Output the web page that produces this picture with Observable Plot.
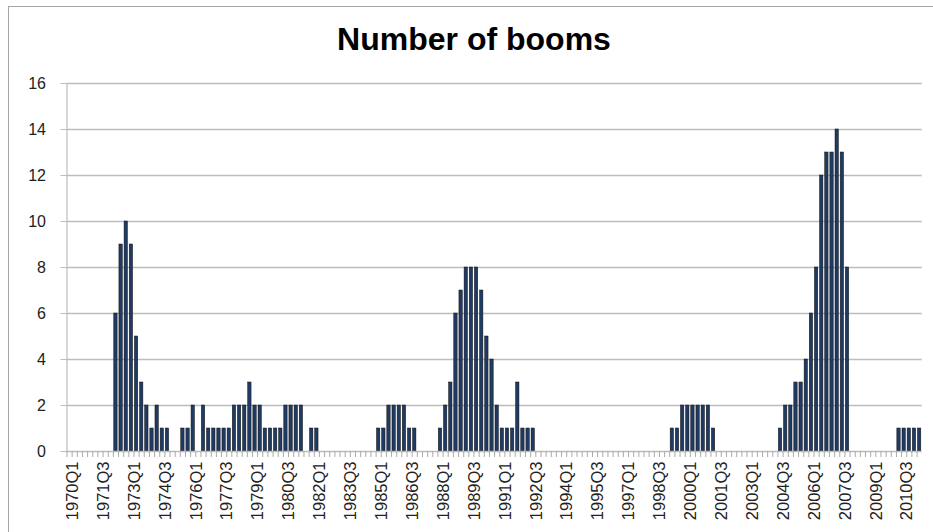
<!DOCTYPE html>
<html>
<head>
<meta charset="utf-8">
<script src="https://cdn.jsdelivr.net/npm/d3@7"></script>
<script src="https://cdn.jsdelivr.net/npm/@observablehq/plot@0.6"></script>
<style>
  html, body { margin: 0; padding: 0; background: #fff; }
  #wrap { position: relative; width: 933px; height: 532px; overflow: hidden; background: #fff; }
  #border { position: absolute; left: 8px; top: 6px; width: 1000px; height: 700px; border: 1px solid #a6a6a6; box-sizing: border-box; }
  #title { position: absolute; left: 0; width: 948px; top: 21px; text-align: center;
           font-family: "Liberation Sans", Arial, sans-serif; font-weight: bold; font-size: 32px; color: #000; }
  #chart { position: absolute; left: 0; top: 0; }
</style>
</head>
<body>
<div id="wrap">
  <div id="border"></div>
  <div id="chart"></div>
  <div id="title">Number of booms</div>
</div>
<script>
// Quarterly categories 1970Q1 .. 2011Q2
const startYear = 1970;
const nQuarters = 166;
const quarters = d3.range(nQuarters).map(i => `${startYear + Math.floor(i / 4)}Q${(i % 4) + 1}`);

// Number of booms per quarter
const booms = [
  0,0,0,0,0,0,0,0,0,6,      // 1970Q1-1972Q2
  9,10,9,5,3,2,1,2,1,1,     // 1972Q3-1974Q4
  0,0,1,1,2,0,2,1,1,1,      // 1975Q1-1977Q2
  1,1,2,2,2,3,2,2,1,1,      // 1977Q3-1979Q4
  1,1,2,2,2,2,0,1,1,0,      // 1980Q1-1982Q2
  0,0,0,0,0,0,0,0,0,0,      // 1982Q3-1984Q4
  1,1,2,2,2,2,1,1,0,0,      // 1985Q1-1987Q2
  0,0,1,2,3,6,7,8,8,8,      // 1987Q3-1989Q4
  7,5,4,2,1,1,1,3,1,1,      // 1990Q1-1992Q2
  1,0,0,0,0,0,0,0,0,0,      // 1992Q3-1994Q4
  0,0,0,0,0,0,0,0,0,0,      // 1995Q1-1997Q2
  0,0,0,0,0,0,0,1,1,2,      // 1997Q3-1999Q4
  2,2,2,2,2,1,0,0,0,0,      // 2000Q1-2002Q2
  0,0,0,0,0,0,0,0,1,2,      // 2002Q3-2004Q4
  2,3,3,4,6,8,12,13,13,14,  // 2005Q1-2007Q2
  13,8,0,0,0,0,0,0,0,0,     // 2007Q3-2009Q4
  0,1,1,1,1,1               // 2010Q1-2011Q2
];

const yTicks = [0, 2, 4, 6, 8, 10, 12, 14, 16];
const xTickLabels = quarters.filter((d, i) => i % 6 === 0);

const data = quarters.map((q, i) => ({quarter: q, value: booms[i]}));

const W = 933, H = 532;
const mL = 66.5, mR = 11.3, mT = 83, mB = 81;
const step = (W - mL - mR) / nQuarters;

const chart = Plot.plot({
  width: W,
  height: H,
  marginLeft: mL,
  marginRight: mR,
  marginTop: mT,
  marginBottom: mB,
  style: {background: "transparent", fontFamily: "Liberation Sans, Arial, sans-serif", color: "#222"},
  x: {type: "band", domain: quarters, paddingInner: 0.35, paddingOuter: 0.175, round: false, label: null},
  y: {domain: [0, 16], label: null},
  marks: [
    Plot.ruleY(yTicks.slice(1), {stroke: "#bdbdbd", strokeWidth: 1.5}),
    Plot.axisY({ticks: yTicks, tickSize: 6, tickPadding: 15, stroke: "#bdbdbd", fontSize: 16, fill: "#222", label: null}),
    Plot.ruleX([quarters[0]], {y1: 0, y2: 16, dx: -step / 2, stroke: "#bdbdbd", strokeWidth: 1.2}),
    Plot.barY(data, {x: "quarter", y: "value", fill: "#1f3b63", stroke: "#111", strokeWidth: 0.5}),
    Plot.ruleY([0], {stroke: "#bdbdbd", strokeWidth: 1.5}),
    Plot.axisX({ticks: quarters, tickSize: 6, tickFormat: () => "", dx: -step / 2, stroke: "#aaaaaa"}),
    Plot.ruleX([quarters[nQuarters - 1]], {y: 0, dx: step / 2, dy: 3, stroke: "#aaaaaa"}),
    Plot.axisX({ticks: xTickLabels, tickSize: 0, tickPadding: 10, tickRotate: -90, dx: 3, fontSize: 16.5, fill: "#222", label: null})
  ]
});
document.getElementById("chart").appendChild(chart);
</script>
</body>
</html>
